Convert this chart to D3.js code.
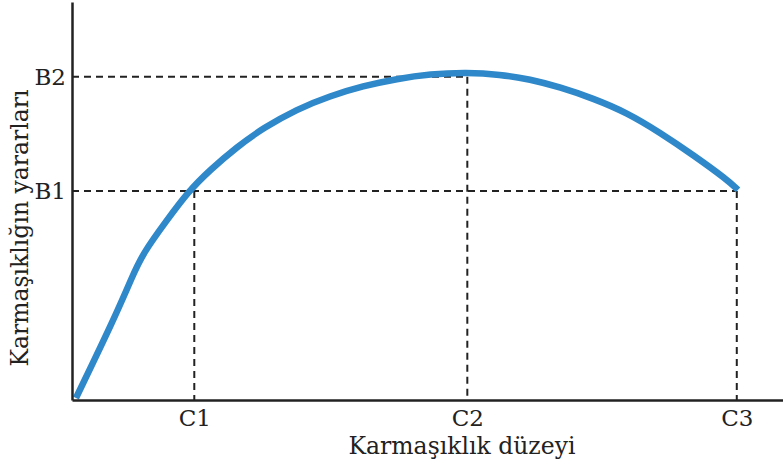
<!DOCTYPE html>
<html>
<head>
<meta charset="utf-8">
<script src="https://cdn.jsdelivr.net/npm/d3@7"></script>
<style>
  body { margin: 0; background: #fff; }
  text { font-family: "DejaVu Serif", serif; fill: #222; }
</style>
</head>
<body>
<div id="chart"></div>
<script>
// levels on the axes
const xLevels = ["C1", "C2", "C3"];
const xLevelValues = [17.2, 55.6, 93.5];
const yLevels = ["B1", "B2"];
const yLevelValues = [52.5, 81.2];

// benefit curve
const curveX = [0.56, 6.05, 8.44, 9.99, 13.36, 16.32, 19.41, 23.21, 26.86, 31.65, 36.29, 40.93, 45.71, 50.35, 55.56, 60.20, 64.42, 68.64, 73.28, 78.06, 82.70, 87.34, 92.12, 93.67];
const curveY = [0.5, 20.85, 30.9, 36.9, 45.2, 52.3, 57.8, 63.6, 68.3, 73.1, 76.4, 78.9, 80.7, 81.9, 82.3, 81.8, 80.6, 78.6, 75.8, 72.2, 67.2, 61.6, 55.4, 52.8];

const width = 783, height = 465;
const svg = d3.select("#chart").append("svg")
    .attr("width", width)
    .attr("height", height);

const x = d3.scaleLinear().domain([0, 100]).range([72, 783]);
const y = d3.scaleLinear().domain([0, 100]).range([400, 2]);

// dashed guides
const dash = "7,5";
function guide(x1, y1, x2, y2) {
    svg.append("line")
        .attr("x1", x(x1)).attr("y1", y(y1))
        .attr("x2", x(x2)).attr("y2", y(y2))
        .attr("stroke", "#222")
        .attr("stroke-width", 2)
        .attr("stroke-dasharray", dash);
}
// B2 -> C2
guide(0, yLevelValues[1], xLevelValues[1], yLevelValues[1]);
guide(xLevelValues[1], yLevelValues[1], xLevelValues[1], 0);
// B1 across to C3, drops at C1 and C3
guide(0, yLevelValues[0], xLevelValues[2], yLevelValues[0]);
guide(xLevelValues[0], yLevelValues[0], xLevelValues[0], 0);
guide(xLevelValues[2], yLevelValues[0], xLevelValues[2], 0);

// the curve
const pts = curveX.map((v, i) => [v, curveY[i]]);
svg.append("path")
    .datum(pts)
    .attr("fill", "none")
    .attr("stroke", "#2e88c9")
    .attr("stroke-width", 6.5)
    .attr("d", d3.line()
        .x(d => x(d[0]))
        .y(d => y(d[1]))
        .curve(d3.curveBasis));

// axes
const xAxis = d3.axisBottom(x)
    .tickValues(xLevelValues)
    .tickFormat((d, i) => xLevels[i])
    .tickSize(0).tickSizeOuter(0).tickPadding(10);
const gx = svg.append("g")
    .attr("transform", "translate(0," + y(0) + ")")
    .call(xAxis);

const yAxis = d3.axisLeft(y)
    .tickValues(yLevelValues)
    .tickFormat((d, i) => yLevels[i])
    .tickSize(0).tickSizeOuter(0).tickPadding(6);
const gy = svg.append("g")
    .attr("transform", "translate(" + x(0) + ",0)")
    .call(yAxis);

[gx, gy].forEach(function(g) {
    g.select(".domain").attr("stroke", "#222").attr("stroke-width", 2.5);
    g.selectAll("text")
        .style("font-family", "DejaVu Serif, serif")
        .style("font-size", "23px")
        .attr("fill", "#222");
});

// axis titles
svg.append("text")
    .attr("x", 462)
    .attr("y", 454)
    .attr("text-anchor", "middle")
    .style("font-size", "23.5px")
    .text("Karmaşıklık düzeyi");

svg.append("text")
    .attr("transform", "translate(28,228) rotate(-90)")
    .attr("text-anchor", "middle")
    .style("font-size", "23.5px")
    .text("Karmaşıklığın yararları");
</script>
</body>
</html>
